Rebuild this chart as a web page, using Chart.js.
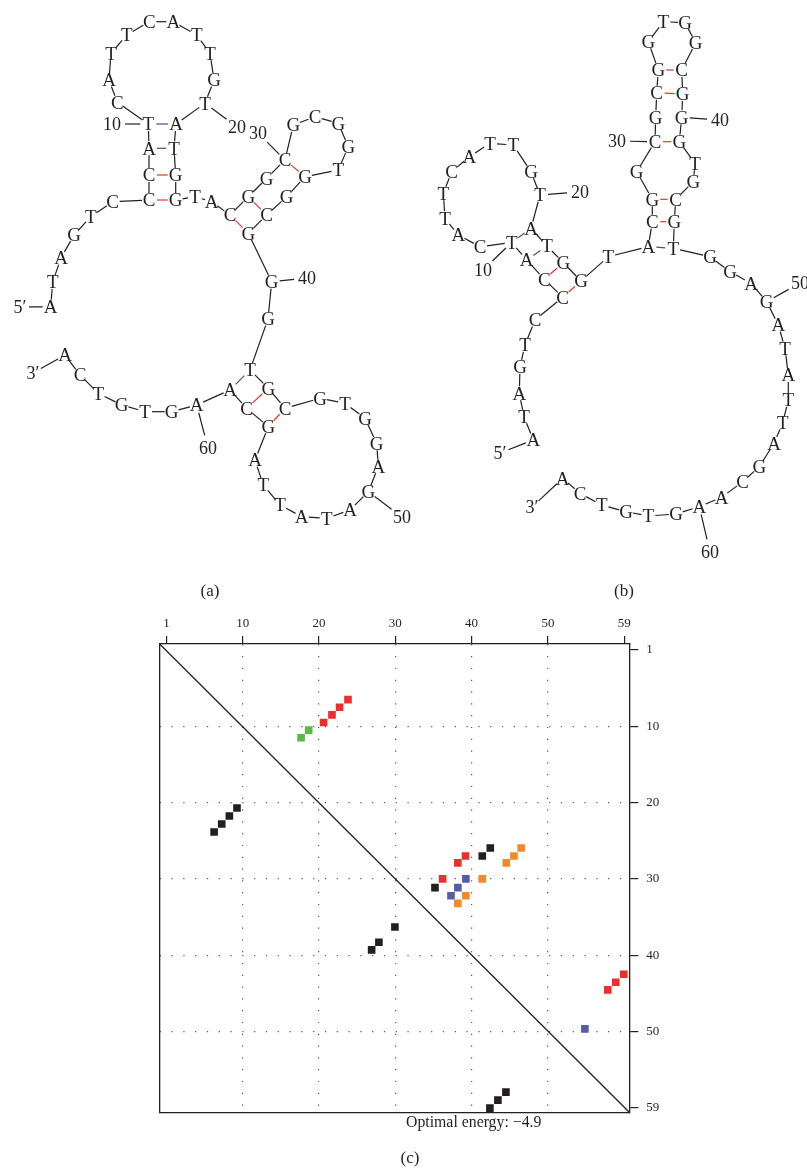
<!DOCTYPE html>
<html lang="en">
<head>
  <meta charset="UTF-8" />
  <title>Secondary structures and dot plot</title>
  <script src="https://cdn.jsdelivr.net/npm/chart.js"></script>
  <style>
    body { margin: 0; background: #fff; font-family: "Liberation Serif", serif; color: #231f20; }
    #page { position: relative; width: 807px; height: 1168px; }
    #structCanvas { position: absolute; left: 0; top: 0; }
    #dotCanvas { position: absolute; left: 0; top: 600px; }
    .cap { position: absolute; font-size: 17px; transform: translate(-50%, -50%); white-space: nowrap; }
    .energy { position: absolute; font-size: 15.8px; white-space: nowrap; transform: translateY(-50%); }
  </style>
</head>
<body>
<div id="page">
  <canvas id="structCanvas" width="807" height="600"></canvas>
  <canvas id="dotCanvas" width="807" height="568"></canvas>
  <div class="cap" style="left:210px; top:591px;">(a)</div>
  <div class="cap" style="left:624px; top:591px;">(b)</div>
  <div class="energy" style="left:406px; top:1122px;">Optimal energy: &minus;4.9</div>
  <div class="cap" style="left:410px; top:1158px;">(c)</div>
</div>
<script>
  // sequence, 5' -> 3'
  const sequence = "ATAGTCCCATCATTCATTGTATGGTACGGCGCGGTGGCGGGTGCGTGGAGATATTAGCAAGTGTCA".split('');

  // layout (a): base coordinates in drawing units
  const aX = [50.7, 52.7, 61, 74, 90.7, 112.7, 149, 149, 149, 148.3,
    117.3, 109, 111, 126.7, 149.3, 173.3, 196.7, 210, 214, 205,
    176, 174, 175.7, 175.7, 195, 211.7, 230, 248.3, 266.7, 285,
    293.3, 315, 338.3, 348.3, 338.3, 305, 286.7, 266.7, 248.3, 271.7,
    268, 250, 268.3, 285, 320, 345, 365, 376.7, 378.3, 368.3,
    350, 326.7, 301.7, 280, 263.3, 255, 268.3, 246.7, 230, 196.7,
    171.7, 145, 121.7, 98.3, 80, 65];
  const aY = [306.7, 282, 258, 235, 216.7, 201.7, 200, 175, 148.3, 124,
    102.3, 80, 53.3, 35, 21.7, 21.7, 35, 53.3, 80, 103.3,
    124, 148.3, 175, 200, 196.7, 201.7, 215, 196.7, 178.3, 160,
    125, 116.7, 123.3, 146.7, 170, 176.7, 196.7, 215, 233.3, 281.7,
    319, 370, 388.3, 408.3, 398.3, 403.3, 418.3, 443.3, 466.7, 491.7,
    510, 518.3, 516.7, 505, 485, 460, 426.7, 408.3, 390, 405,
    411.7, 411.7, 405, 393.3, 375, 355];
  const pairsA = [[10, 21], [9, 22], [8, 23], [7, 24], [27, 39], [28, 38], [30, 36], [42, 59], [43, 58], [44, 57]];
  const marksA = [["5′", 1, 20, 307], ["10", 10, 112, 124], ["20", 20, 237, 127], ["30", 30, 258, 133],
    ["40", 40, 307, 278], ["50", 50, 402, 517], ["60", 60, 208, 448], ["3′", 66, 33, 373]];

  // layout (b)
  const bX = [533.3, 524, 519.3, 520, 525, 535, 562.7, 544.3, 526.7, 511.7,
    480, 458.3, 445, 443.3, 451.7, 469.3, 490, 513.3, 531, 540,
    531, 547, 563.3, 581, 608.3, 648.3, 652.3, 652.3, 636.7, 655,
    655.7, 656.7, 658.3, 648.3, 663.3, 685, 695.7, 681.7, 682.7, 681.7,
    679.3, 695, 693.3, 675.7, 674.3, 673.3, 710, 730, 751, 766.7,
    778.3, 785, 788.3, 788.3, 782.7, 774, 759.3, 742.7, 721.7, 699.3,
    676, 648.3, 626, 601.7, 580, 562.7];
  const bY = [440, 416.7, 393.3, 366.7, 345, 320, 297.3, 279.3, 260, 242.5,
    246.7, 235, 218.3, 193.3, 171.7, 156.7, 143.3, 145, 171.7, 195,
    228.3, 246, 262.7, 281, 256.7, 246.7, 221.7, 199.3, 171.7, 141.7,
    117.3, 92.7, 70, 41.7, 21.7, 22.7, 42.7, 70, 94, 117.3,
    141.7, 163.3, 181.7, 199.3, 221.7, 248.3, 256.7, 271.7, 283.3, 301.7,
    325, 348.3, 375, 400, 423, 443.3, 466.7, 481.7, 497.3, 506.7,
    514, 516, 511.7, 505, 493.3, 478.3];
  const pairsB = [[10, 21], [9, 22], [8, 23], [7, 24], [26, 46], [27, 45], [28, 44], [30, 41], [32, 39], [33, 38]];
  const marksB = [["5′", 1, 500, 453], ["10", 10, 483, 270], ["20", 20, 580, 192], ["30", 30, 617, 141],
    ["40", 40, 720, 120], ["50", 50, 800, 283], ["60", 60, 710, 552], ["3′", 66, 532, 507]];

  // dot plot (c): cell centres, column = x, row = y
  const redX = [20.6, 21.7, 22.7, 23.8, 36.2, 38.2, 39.2, 57.85, 58.9, 59.95];
  const redY = [9.5, 8.5, 7.5, 6.5, 30.0, 27.9, 27.0, 44.55, 43.55, 42.5];
  const greenX = [17.65, 18.65];
  const greenY = [11.5, 10.5];
  const blackX = [6.25, 7.25, 8.25, 9.25, 41.4, 42.45, 35.2, 29.95, 27.85, 26.9, 42.4, 43.45, 44.5];
  const blackY = [23.85, 22.8, 21.75, 20.7, 27.0, 25.95, 31.15, 36.3, 38.3, 39.3, 60.05, 59.0, 57.95];
  const orangeX = [44.55, 45.55, 46.5, 41.4, 39.25, 38.2];
  const orangeY = [27.9, 27.0, 25.95, 30.0, 32.2, 33.2];
  const blueX = [39.25, 38.2, 37.3, 54.85];
  const blueY = [30.0, 31.15, 32.2, 49.65];
  const tickVals = [0, 10, 20, 30, 40, 50, 60];
  const tickText = ['1', '10', '20', '30', '40', '50', '59'];
  const xMin = -0.88, xMax = 60.67, yMin = -0.79, yMax = 60.59;

  const INK = '#231f20';
  const FONT = '"Liberation Serif", "DejaVu Serif", serif';

  // line between two points, cut back at both ends
  function seg(ctx, p, q, r1, r2) {
    const dx = q.x - p.x, dy = q.y - p.y;
    const d = Math.hypot(dx, dy);
    if (d <= r1 + r2) return;
    const ux = dx / d, uy = dy / d;
    ctx.beginPath();
    ctx.moveTo(p.x + ux * r1, p.y + uy * r1);
    ctx.lineTo(q.x - ux * r2, q.y - uy * r2);
    ctx.stroke();
  }

  const structures = [
    { pairs: pairsA, marks: marksA },
    { pairs: pairsB, marks: marksB }
  ];

  const rnaPlugin = {
    id: 'rnaDraw',
    afterDatasetsDraw(chart) {
      const ctx = chart.ctx;
      const xs = chart.scales.x, ys = chart.scales.y;
      structures.forEach((st, di) => {
        const pts = chart.getDatasetMeta(di).data.map(p => ({ x: p.x, y: p.y }));
        ctx.save();
        ctx.lineWidth = 1.2;
        ctx.strokeStyle = INK;
        // backbone
        for (let i = 0; i < pts.length - 1; i++) seg(ctx, pts[i], pts[i + 1], 7, 7);
        // base pairs
        st.pairs.forEach(([i, j]) => {
          const s = sequence[i - 1] + sequence[j - 1];
          const gc = s === 'GC' || s === 'CG';
          ctx.strokeStyle = gc ? '#e5332a' : '#4b4c8e';
          seg(ctx, pts[i - 1], pts[j - 1], 8, 8);
        });
        // numbering
        ctx.fillStyle = INK;
        ctx.textAlign = 'center';
        ctx.textBaseline = 'alphabetic';
        ctx.font = '18px ' + FONT;
        st.marks.forEach(([txt, n, mx, my]) => {
          const q = { x: xs.getPixelForValue(mx), y: ys.getPixelForValue(my) };
          ctx.strokeStyle = INK;
          seg(ctx, pts[n - 1], q, 8, txt.length > 1 && txt[1] !== '′' ? 13 : 9);
          ctx.fillText(txt, q.x, q.y + 6);
        });
        // bases
        ctx.font = '19px ' + FONT;
        pts.forEach((p, i) => ctx.fillText(sequence[i], p.x, p.y + 6.3));
        ctx.restore();
      });
    }
  };

  new Chart(document.getElementById('structCanvas'), {
    type: 'scatter',
    data: {
      datasets: [
        { data: aX.map((x, i) => ({ x: x, y: aY[i] })), pointRadius: 0 },
        { data: bX.map((x, i) => ({ x: x, y: bY[i] })), pointRadius: 0 }
      ]
    },
    options: {
      responsive: false,
      animation: false,
      events: [],
      layout: { padding: 0 },
      plugins: { legend: { display: false }, tooltip: { enabled: false } },
      scales: {
        x: { type: 'linear', min: 0, max: 807, display: false },
        y: { type: 'linear', min: 0, max: 600, reverse: true, display: false }
      }
    },
    plugins: [rnaPlugin]
  });

  // ---- dot plot ----
  const cellSize = ctx => {
    const s = ctx.chart.scales.x;
    return (s.getPixelForValue(1) - s.getPixelForValue(0)) / Math.SQRT2;
  };
  function cells(xv, yv, color) {
    return {
      data: xv.map((x, i) => ({ x: x, y: yv[i] })),
      pointStyle: 'rect',
      pointRadius: cellSize,
      pointBorderWidth: 0,
      backgroundColor: color,
      borderColor: color
    };
  }
  const inner = c => c.tick && c.tick.value > 0 && c.tick.value < 60;
  const tickFont = { family: FONT, size: 13 };
  const setTicks = s => { s.ticks = tickVals.map(v => ({ value: v })); };

  new Chart(document.getElementById('dotCanvas'), {
    type: 'scatter',
    data: {
      datasets: [
        {
          type: 'line',
          data: [{ x: xMin, y: yMin }, { x: xMax, y: yMax }],
          borderColor: INK, borderWidth: 1.3, pointRadius: 0, fill: false
        },
        cells(redX, redY, '#ee2e2a'),
        cells(greenX, greenY, '#5cb848'),
        cells(blackX, blackY, INK),
        cells(orangeX, orangeY, '#f5882a'),
        cells(blueX, blueY, '#5a5ba6')
      ]
    },
    options: {
      responsive: false,
      animation: false,
      events: [],
      layout: { padding: { left: 159.7, right: 132.7, top: 14, bottom: 55.7 } },
      plugins: { legend: { display: false }, tooltip: { enabled: false } },
      scales: {
        x: {
          type: 'linear', position: 'top', min: xMin, max: xMax,
          afterBuildTicks: setTicks,
          afterFit: s => { s.height = 30; },
          ticks: { callback: (v, i) => tickText[i], font: tickFont, color: INK, padding: 5, maxRotation: 0, autoSkip: false },
          grid: { color: c => inner(c) ? '#555' : 'rgba(0,0,0,0)', lineWidth: 1.2, tickLength: 8, tickColor: INK, tickWidth: 1.2 },
          border: { display: true, color: INK, width: 1.3, dash: [1.2, 10.6] }
        },
        y: {
          type: 'linear', position: 'right', reverse: true, min: yMin, max: yMax,
          afterBuildTicks: setTicks,
          afterFit: s => { s.width = 45; },
          ticks: { callback: (v, i) => tickText[i], font: tickFont, color: INK, padding: 8, autoSkip: false },
          grid: { color: c => inner(c) ? '#555' : 'rgba(0,0,0,0)', lineWidth: 1.2, tickLength: 9, tickColor: INK, tickWidth: 1.2 },
          border: { display: true, color: INK, width: 1.3, dash: [1.2, 10.6] }
        },
        x2: {
          type: 'linear', position: 'bottom', min: xMin, max: xMax,
          afterFit: s => { s.height = 0; },
          ticks: { display: false },
          grid: { display: false, drawTicks: false },
          border: { display: true, color: INK, width: 1.3 }
        },
        y2: {
          type: 'linear', position: 'left', min: yMin, max: yMax,
          afterFit: s => { s.width = 0; },
          ticks: { display: false },
          grid: { display: false, drawTicks: false },
          border: { display: true, color: INK, width: 1.3 }
        }
      }
    }
  });
</script>
</body>
</html>
